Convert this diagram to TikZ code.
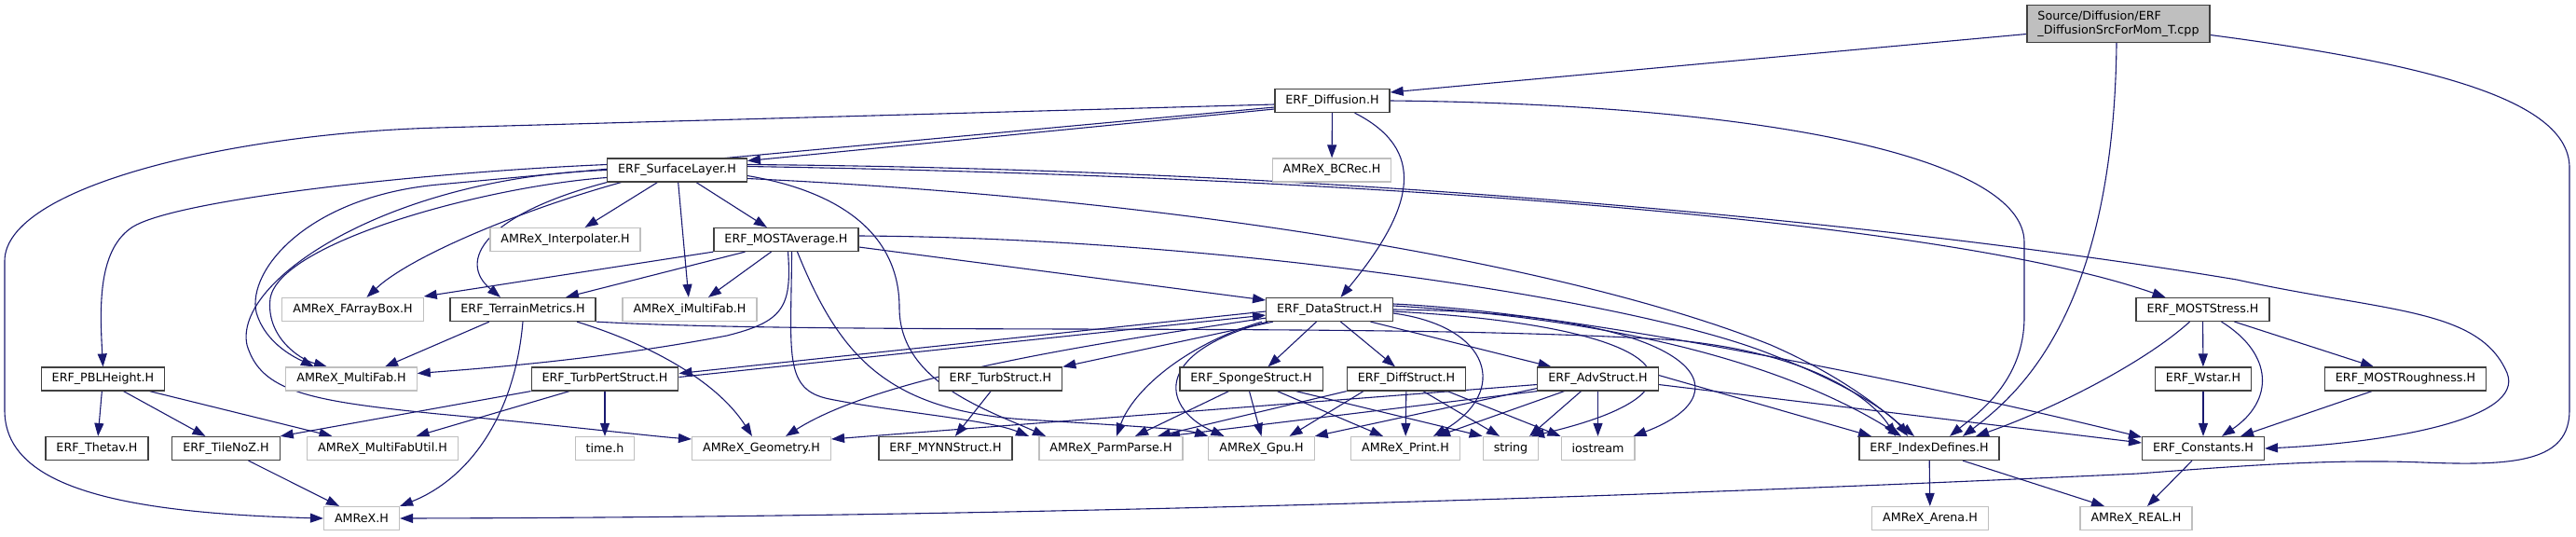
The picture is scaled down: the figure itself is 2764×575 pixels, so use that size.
\documentclass[tikz,border=0pt]{standalone}
\usepackage{fontspec}
\setmainfont{DejaVu Sans}
\usepackage{xcolor}
\usetikzlibrary{arrows.meta,backgrounds}
\definecolor{edgeblue}{HTML}{191970}
\definecolor{grey25}{HTML}{404040}
\definecolor{grey75}{HTML}{BFBFBF}

\begin{document}
\begin{tikzpicture}[
    x=0.5pt, y=-0.5pt,
    every node/.style={font=\fontsize{6.35}{7.5}\selectfont, inner xsep=5.75pt, inner ysep=0pt, minimum height=12.5pt},
    doc/.style={draw=grey25, line width=0.6pt, fill=white},
    ext/.style={draw=grey75, line width=0.6pt, fill=white},
    rootfile/.style={draw=grey25, line width=0.6pt, fill=grey75, align=left, minimum height=20pt},
    dep/.style={draw=edgeblue, line width=0.55pt, -{Triangle[length=7pt,width=5pt]}},
]
\useasboundingbox (0,0) rectangle (2764,575);

% source file
\node[rootfile] (root) at (2273,25.5) {Source/Diffusion/ERF\\\_DiffusionSrcForMom\_T.cpp};

% first levels
\node[doc] (dif) at (1429.5,108) {ERF\_Diffusion.H};
\node[doc] (sl) at (726.5,182.5) {ERF\_SurfaceLayer.H};
\node[ext] (bcrec) at (1429,182.5) {AMReX\_BCRec.H};
\node[ext] (interp) at (606.5,257) {AMReX\_Interpolater.H};
\node[doc] (mavg) at (843.5,257) {ERF\_MOSTAverage.H};

% row 4
\node[ext] (fab) at (378.5,332) {AMReX\_FArrayBox.H};
\node[doc] (terr) at (561,332) {ERF\_TerrainMetrics.H};
\node[ext] (imf) at (740,332) {AMReX\_iMultiFab.H};
\node[doc] (data) at (1426.5,332) {ERF\_DataStruct.H};
\node[doc] (mstress) at (2363.5,332) {ERF\_MOSTStress.H};

% row 5
\node[doc] (pbl) at (110.5,406.5) {ERF\_PBLHeight.H};
\node[ext] (mf) at (377,406.5) {AMReX\_MultiFab.H};
\node[doc] (tpert) at (649,406.5) {ERF\_TurbPertStruct.H};
\node[doc] (turb) at (1073.5,406.5) {ERF\_TurbStruct.H};
\node[doc] (sponge) at (1342.5,406.5) {ERF\_SpongeStruct.H};
\node[doc] (diffs) at (1509,406.5) {ERF\_DiffStruct.H};
\node[doc] (adv) at (1714.5,406.5) {ERF\_AdvStruct.H};
\node[doc] (wstar) at (2364,406.5) {ERF\_Wstar.H};
\node[doc] (mrough) at (2581,406.5) {ERF\_MOSTRoughness.H};

% row 6
\node[doc] (thetav) at (104,481) {ERF\_Thetav.H};
\node[doc] (tile) at (242.5,481) {ERF\_TileNoZ.H};
\node[ext] (mfutil) at (410.5,481) {AMReX\_MultiFabUtil.H};
\node[ext] (timeh) at (649,481) {time.h};
\node[ext] (geom) at (817,481) {AMReX\_Geometry.H};
\node[doc] (mynn) at (1014.5,481) {ERF\_MYNNStruct.H};
\node[ext] (parm) at (1192,481) {AMReX\_ParmParse.H};
\node[ext] (gpu) at (1353.5,481) {AMReX\_Gpu.H};
\node[ext] (print) at (1508,481) {AMReX\_Print.H};
\node[ext] (str) at (1621,481) {string};
\node[ext] (ios) at (1714.5,481) {iostream};
\node[doc] (idx) at (2070,481) {ERF\_IndexDefines.H};
\node[doc] (const) at (2364,481) {ERF\_Constants.H};

% bottom row
\node[ext] (amrex) at (388,556) {AMReX.H};
\node[ext] (arena) at (2071,556) {AMReX\_Arena.H};
\node[ext] (real) at (2292,556) {AMReX\_REAL.H};

\begin{scope}[on background layer]
% includes of the source file
\draw[dep] ([yshift=-5.5pt]root.west) -- ([yshift=4.5pt]dif.east);
\draw[dep] ([xshift=-1pt]root.south) .. controls (2268,330) and (2170,420) .. ([xshift=18pt]idx.north);
\draw[dep] ([yshift=-6pt]root.east) .. controls (2620,70) and (2757,110) .. (2757,180) -- (2757,440)
    .. controls (2757,495) and (2700,500) .. (2600,496) .. controls (2500,492) and (2400,500) .. (2294,508)
    .. controls (1500,545) and (900,555) .. (amrex.east);

% ERF_Diffusion.H
\draw[dep] ([yshift=-4.5pt]dif.west) -- ([yshift=5pt]sl.east);
\draw[dep] (dif) -- (bcrec);
\draw[dep] ([xshift=12pt]dif.south) .. controls (1530,160) and (1520,220) .. ([xshift=6pt]data.north);
\draw[dep] (dif.east) .. controls (1900,112) and (2172,170) .. (2172,260) -- (2172,340)
    .. controls (2172,410) and (2120,445) .. ([xshift=11pt]idx.north);
\draw[dep] ([yshift=-3.5pt]dif.west) -- (470,198) .. controls (330,211) and (265,290) .. (275,335)
    .. controls (285,370) and (320,385) .. ([xshift=-20pt]mf.north);
\draw[dep] ([yshift=-2pt]dif.west) -- (470,137) .. controls (250,143) and (5,200) .. (5,280) -- (5,440)
    .. controls (5,520) and (120,550) .. (amrex.west);

% ERF_SurfaceLayer.H
\draw[dep] ([yshift=3pt]sl.west) .. controls (450,185) and (180,215) .. (140,245)
    .. controls (105,270) and (107,330) .. (pbl.north);
\draw[dep] ([xshift=-30pt]sl.south) .. controls (560,225) and (440,275) .. ([xshift=7.5pt]fab.north);
\draw[dep] ([yshift=-4pt]sl.west) .. controls (520,200) and (300,260) .. (290,320)
    .. controls (285,360) and (320,385) .. ([xshift=-13pt]mf.north);
\draw[dep] (sl.south west) .. controls (520,230) and (490,280) .. ([xshift=-12pt]terr.north);
\draw[dep] (sl) -- (interp);
\draw[dep] (sl) -- (imf);
\draw[dep] (sl) -- (mavg);
\draw[dep] (sl.west) .. controls (420,190) and (250,300) .. (265,370) .. controls (280,420) and (330,430) .. (470,444)
    .. controls (600,456) and (700,468) .. ([yshift=5pt]geom.west);
\draw[dep] ([yshift=-3pt]sl.east) .. controls (900,205) and (965,250) .. (965,330)
    .. controls (965,410) and (1060,440) .. ([xshift=-35pt]parm.north);
\draw[dep] ([yshift=2pt]sl.east) .. controls (1500,190) and (2100,240) .. ([xshift=-20pt]mstress.north);
\draw[dep] ([yshift=3pt]sl.east) .. controls (1500,182) and (2100,250) .. (2400,300)
    .. controls (2560,335) and (2660,330) .. (2690,400) .. controls (2710,450) and (2560,475) .. (const.east);
\draw[dep] ([yshift=-4.5pt]sl.east) .. controls (1300,215) and (1700,290) .. (1900,370)
    .. controls (1980,405) and (2020,440) .. ([xshift=-8pt]idx.north);

% ERF_MOSTAverage.H
\draw[dep] (mavg.south west) -- ([yshift=7pt]fab.east);
\draw[dep] ([xshift=-22pt]mavg.south) -- ([xshift=23pt]terr.north);
\draw[dep] ([xshift=-8pt]mavg.south) -- ([xshift=10pt]imf.north);
\draw[dep] ([xshift=1pt]mavg.south) .. controls (850,330) and (840,345) .. (780,360)
    .. controls (650,385) and (520,395) .. ([yshift=3pt]mf.east);
\draw[dep] ([yshift=-4pt]mavg.east) -- ([yshift=5pt]data.west);
\draw[dep] ([yshift=2pt]mavg.east) .. controls (1300,255) and (1750,320) .. (1900,380)
    .. controls (1990,415) and (2030,445) .. ([xshift=-11.5pt]idx.north);
\draw[dep] ([xshift=3pt]mavg.south) .. controls (849,380) and (840,418) .. (890,428)
    .. controls (960,442) and (1060,450) .. ([xshift=-44pt]parm.north);
\draw[dep] ([xshift=6pt]mavg.south) .. controls (900,380) and (950,440) .. (1100,450)
    .. controls (1200,456) and (1270,460) .. (gpu.north west);

% ERF_TerrainMetrics.H
\draw[dep] ([xshift=-18pt]terr.south) -- ([xshift=18pt]mf.north);
\draw[dep] (terr.south) .. controls (552,450) and (500,515) .. (amrex.north east);
\draw[dep] ([xshift=29pt]terr.south) .. controls (700,370) and (770,410) .. ([xshift=-5pt]geom.north);
\draw[dep] (terr.south east) .. controls (900,360) and (1500,345) .. (1800,365)
    .. controls (1950,380) and (2010,430) .. ([xshift=-18pt]idx.north);

% ERF_DataStruct.H
\draw[dep] ([yshift=-1pt]data.west) -- ([yshift=3pt]tpert.east);
\draw[dep] ([yshift=1pt]tpert.east) -- ([yshift=-3pt]data.west);
\draw[dep] ([xshift=4pt]data.south west) -- (turb.north east);
\draw[dep] ([xshift=-7pt]data.south) -- ([xshift=9pt]sponge.north);
\draw[dep] ([xshift=6pt]data.south) -- ([xshift=-6pt]diffs.north);
\draw[dep] ([xshift=22pt]data.south) -- ([xshift=-25pt]adv.north);
\draw[dep] ([xshift=-2pt]data.south west) .. controls (1270,370) and (1215,420) .. ([xshift=3pt]parm.north);
\draw[dep] ([xshift=1pt]data.south west) .. controls (1230,380) and (1250,440) .. ([xshift=-20pt]gpu.north);
\draw[dep] ([yshift=2pt]data.south west) .. controls (1200,365) and (950,400) .. ([xshift=13pt]geom.north);
\draw[dep] ([yshift=-2pt]data.east) .. controls (1600,350) and (1620,420) .. ([xshift=15pt]print.north);
\draw[dep] ([yshift=-1pt]data.east) .. controls (1800,350) and (1850,420) .. ([xshift=11pt]str.north);
\draw[dep] (data.east) .. controls (1820,335) and (1880,420) .. ([xshift=19pt]ios.north);
\draw[dep] ([yshift=2pt]data.east) .. controls (1700,340) and (1900,380) .. ([xshift=-15pt]idx.north);
\draw[dep] ([yshift=3pt]data.east) .. controls (1700,335) and (2100,420) .. ([yshift=6pt]const.west);

% ERF_TurbPertStruct.H
\draw[dep] (tpert.south west) -- (tile.north east);
\draw[dep] ([xshift=-19pt]tpert.south) -- ([xshift=18pt]mfutil.north);
\draw[dep] (tpert) -- (timeh);

% ERF_PBLHeight.H and ERF_TileNoZ.H
\draw[dep] (pbl) -- (thetav);
\draw[dep] ([xshift=11pt]pbl.south) -- ([xshift=-11pt]tile.north);
\draw[dep] ([xshift=25pt]pbl.south) -- ([xshift=-27pt]mfutil.north);
\draw[dep] ([xshift=12pt]tile.south) -- ([xshift=-12pt]amrex.north);

% ERF_TurbStruct.H
\draw[dep] (turb) -- (mynn);

% ERF_SpongeStruct.H
\draw[dep] ([xshift=-12pt]sponge.south) -- ([xshift=13pt]parm.north);
\draw[dep] ([xshift=-1pt]sponge.south) -- (gpu.north);
\draw[dep] ([xshift=14pt]sponge.south) -- ([xshift=-12pt]print.north);
\draw[dep] ([xshift=24pt]sponge.south) -- (str.north west);

% ERF_DiffStruct.H
\draw[dep] (diffs.south west) -- ([xshift=25pt]parm.north);
\draw[dep] ([xshift=-23pt]diffs.south) -- ([xshift=15pt]gpu.north);
\draw[dep] (diffs) -- (print);
\draw[dep] ([xshift=9pt]diffs.south) -- ([xshift=-6pt]str.north);
\draw[dep] ([xshift=22pt]diffs.south) -- (ios.north west);

% ERF_AdvStruct.H
\draw[dep] ([yshift=-3pt]adv.west) -- ([yshift=5pt]geom.east);
\draw[dep] (adv.south west) -- ([xshift=30pt]parm.north);
\draw[dep] ([yshift=-5pt]adv.west) -- (gpu.north east);
\draw[dep] ([xshift=-18pt]adv.south) -- ([xshift=17pt]print.north);
\draw[dep] ([xshift=-9pt]adv.south) -- ([xshift=10pt]str.north);
\draw[dep] (adv) -- (ios);
\draw[dep] ([yshift=2pt]adv.east) -- ([xshift=-31pt]idx.north);
\draw[dep] ([yshift=-3pt]adv.east) -- ([yshift=3pt]const.west);

% ERF_MOSTStress.H
\draw[dep] ([xshift=-7pt]mstress.south) .. controls (2300,390) and (2200,440) .. ([xshift=25pt]idx.north);
\draw[dep] (mstress) -- (wstar);
\draw[dep] ([xshift=10pt]mstress.south) .. controls (2440,380) and (2440,430) .. ([xshift=10pt]const.north);
\draw[dep] ([xshift=17pt]mstress.south) -- ([xshift=-17pt]mrough.north);
\draw[dep] (wstar) -- (const);
\draw[dep] ([xshift=-18pt]mrough.south) -- ([xshift=20pt]const.north);

% bottom includes
\draw[dep] (idx) -- (arena);
\draw[dep] ([xshift=18pt]idx.south) -- ([xshift=-17pt]real.north);
\draw[dep] ([xshift=-6pt]const.south) -- ([xshift=6pt]real.north);
\end{scope}

\end{tikzpicture}
\end{document}
